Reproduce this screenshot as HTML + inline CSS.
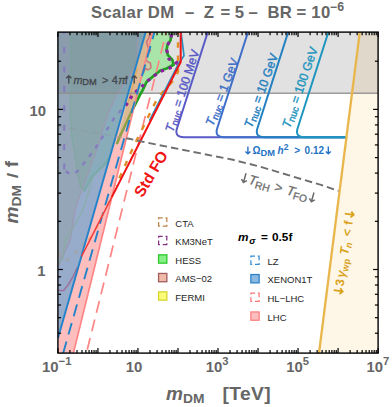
<!DOCTYPE html><html><head><meta charset="utf-8"><title>Scalar DM</title><style>
html,body{margin:0;padding:0;background:#fff;}svg{display:block;}text{font-family:"Liberation Sans",sans-serif;}
</style></head><body>
<svg width="392" height="407" viewBox="0 0 392 407">
<rect width="392" height="407" fill="#fff"/>
<defs><clipPath id="c"><rect x="57.9" y="32.1" width="320.20000000000005" height="321.0"/></clipPath>
<clipPath id="band_lhc"><polygon points="145.7,32 152.5,32 73.4,353.1 58,353.1 58,338"/></clipPath>
<clipPath id="tri"><polygon points="58,32 145.7,32 58,338"/></clipPath>
<clipPath id="ntri"><polygon points="146,32 400,32 400,360 58,360 58,338"/></clipPath>
</defs>
<g clip-path="url(#c)">
<polygon points="359.6,32 379,32 379,353.1 318.8,353.1" fill="#fef6e6"/>
<rect x="57.9" y="32.1" width="320.20000000000005" height="61.199999999999996" fill="#000" fill-opacity="0.118"/>
<polygon points="145.7,32 152.5,32 73.4,353.1 58,353.1 58,338" fill="#ffbebe"/>
<polygon points="145.7,32 172,32 170.5,40.3 167.5,45 166.6,50 167.9,55.1 172.3,59.6 173.6,64.7 166.6,68.5 160,70.8 153.7,75.9 146.5,82 142.7,90.2 139.7,95.4 137.5,99.8 132.3,110.1 126,123.5 119.8,136.7 116.8,144 115.4,147" fill="#a9e5a9"/>
<clipPath id="lpink"><polygon points="100,32 152.5,32 125.6,141 116,160 100,160"/></clipPath>
<polygon points="145.7,32 172,32 170.5,40.3 167.5,45 166.6,50 167.9,55.1 172.3,59.6 173.6,64.7 166.6,68.5 160,70.8 153.7,75.9 146.5,82 142.7,90.2 139.7,95.4 137.5,99.8 132.3,110.1 126,123.5 119.8,136.7 116.8,144 115.4,147" fill="#dcb992" clip-path="url(#lpink)"/>
<polygon points="152.5,32 150,32 149,38 146.5,42 148,47 150.5,50 148,55 146,60 148,62 150.5,63 151,68 148,70 145.5,68.5 143.5,73" fill="#e8b4a0" fill-opacity="0.55"/>
<polyline points="137.3,68 132.2,88.7 127,106" fill="none" stroke="#e0a050" stroke-width="1.2" stroke-opacity="0.8"/>
<g clip-path="url(#tri)">
<rect x="50" y="20" width="120" height="340" fill="#97acca"/>
<polygon points="145.7,32 117.5,138 115,145 112.7,151.5 109.5,157.5 106.5,162.2 103.5,165.8 100.4,168.4 96.5,172.5 92.8,176 89.5,181 86.6,186.7 84.3,191.3 84.3,191.3 80.5,186.7 77,170 74.4,150 72,140 70.5,120 70.5,32" fill="#88acbc"/>
<polygon points="58,32 137.4,32 137.4,61 134,68 130,75.5 124.4,84 117,94 108.3,113 101.4,134.4 96.6,150 90,168 82.8,188.3 79,197.5 75.1,210 70.3,240 65.5,250.6 58,267" fill="#94a6b7"/>
<clipPath id="hin"><polygon points="145.7,32 117.5,138 115,145 112.7,151.5 109.5,157.5 106.5,162.2 103.5,165.8 100.4,168.4 96.5,172.5 92.8,176 89.5,181 86.6,186.7 84.3,191.3 84.3,191.3 80.5,186.7 77,170 74.4,150 72,140 70.5,120 70.5,32"/></clipPath>
<polygon points="58,32 137.4,32 137.4,61 134,68 130,75.5 124.4,84 117,94 108.3,113 101.4,134.4 96.6,150 90,168 82.8,188.3 79,197.5 75.1,210 70.3,240 65.5,250.6 58,267" fill="#8ca6ad" clip-path="url(#hin)"/>
<rect x="57.9" y="32.1" width="100" height="61.199999999999996" fill="#000" fill-opacity="0.055"/>
<polyline points="137.4,32 137.4,61 134,68 130,75.5 124.4,84 117,94 108.3,113 101.4,134.4 96.6,150 90,168 82.8,188.3 79,197.5 75.1,210 70.3,240 65.5,250.6 58,267" fill="none" stroke="#9c97b2" stroke-width="1.4" stroke-opacity="0.8"/>
<polyline points="70.5,32 70.5,120 72,140 74.4,150 77,170 80.5,186.7 84.3,191.3" fill="none" stroke="#78aa9a" stroke-width="1.4" stroke-opacity="0.6"/>
<polyline points="84.3,191.3 86.6,186.7 89.5,181 92.8,176 96.5,172.5 100.4,168.4 103.5,165.8 106.5,162.2 109.5,157.5 112.7,151.5 115,145 117.5,138" fill="none" stroke="#72a898" stroke-width="2.4" stroke-opacity="0.6" stroke-linejoin="round"/>
<polyline points="124.4,98.4 119.8,105.3 112.9,120.6 108.3,134.4 104.5,150 100,160" fill="none" stroke="#8fb4a4" stroke-width="1.1" stroke-opacity="0.5"/>
<polyline points="92.8,178 91.2,183.7 82.8,210 72,230 65.2,240 62.9,259 58,264" fill="none" stroke="#84ae9c" stroke-width="1.3" stroke-opacity="0.7"/>
<polyline points="58,290.5 63.7,290.5 68,285 73.2,276.4 77.5,267" fill="none" stroke="#9a6a9a" stroke-width="1.5" stroke-opacity="0.9"/>
<polyline points="86,242 80.3,247.6 73.4,255.3 65.5,261 61,258 58,251" fill="none" stroke="#a59d9f" stroke-width="1.8" stroke-dasharray="5,6.5" stroke-opacity="0.75"/>
<line x1="64.2" y1="27.7" x2="64.2" y2="169.5" stroke="#8276c2" stroke-width="2.1" stroke-dasharray="6,13.4" stroke-opacity="0.85"/>
<polyline points="65,171 70.5,174 74,173.5 77.4,171.4 83.6,163.8 89.7,155.8 95.8,147.5 101.9,138 108,127.8 114.2,118 120.5,110.9 125.5,105.5" fill="none" stroke="#8276c2" stroke-width="2.4" stroke-dasharray="4.2,6.4" stroke-dashoffset="9.9" stroke-opacity="0.85"/>
</g>
<line x1="57.9" x2="378.1" y1="93.3" y2="93.3" stroke="#8e8e8e" stroke-opacity="0.85" stroke-width="1.5"/>
<polyline points="116.8,144 119.8,136.7 126,123.5 132.3,110.1" fill="none" stroke="#8ea048" stroke-width="2.6"/>
<polyline points="132.3,110.1 137.5,99.8 139.7,95.4 142.7,90.2 146.5,82 153.7,75.9 160,70.8 166.6,68.5 173.6,64.7 172.3,59.6 167.9,55.1 166.6,50 167.5,45 170.5,40.3 172,32" fill="none" stroke="#22a022" stroke-width="2.7" stroke-linejoin="round"/>
<polyline points="150,32 149,38 146.5,42 148,47 150.5,50 148,55 146,60 148,62 150.5,63 151,68 148,70 145.5,68.5 143.5,73" fill="none" stroke="#d07078" stroke-width="1.5" stroke-opacity="0.95" stroke-linejoin="round"/>
<polyline points="125.5,105.5 127.9,102.7 133,93.9 140.5,88 146.2,82 152.7,77 159.3,71.8 166.6,69.2 173.6,66.6 176.5,62.5 169,59 166.7,50 167.5,45 170.5,40 172,32" fill="none" stroke="#8e1fa0" stroke-width="3.2" stroke-dasharray="3.3,5"/>
<line x1="145.7" y1="32" x2="58" y2="338" stroke="#2383c9" stroke-width="1.9"/>
<line x1="152.5" y1="32" x2="73.4" y2="353.1" stroke="#ff8585" stroke-width="1.7"/>
<line x1="154.5" y1="32" x2="63.2" y2="353.1" stroke="#2383c9" stroke-width="1.9" stroke-dasharray="12,7.2" stroke-dashoffset="4.6"/>
<line x1="166.2" y1="32" x2="86.4" y2="353.1" stroke="#ff8585" stroke-width="1.7" stroke-dasharray="12,7.07" stroke-dashoffset="8.8"/>
<polyline points="178,32 178,72 172,82 157.5,98 133.7,146.3 115.9,185.7" fill="none" stroke="#e08c28" stroke-width="2.4" stroke-dasharray="5.5,7.8" stroke-dashoffset="3"/>
<polyline points="112.5,193 98.4,224.4 92.3,234.7 88,240" fill="none" stroke="#f0a878" stroke-width="1.8" stroke-dasharray="5,8" stroke-dashoffset="4"/>
<polyline points="181,32 184,55.7 179.6,62 178.6,63.6 149.5,120.6" fill="none" stroke="#2b8cbe" stroke-width="1.7" stroke-linejoin="round"/>
<polyline points="111.8,197.1 100,220.2 90,239.8 81.5,256.5" fill="none" stroke="#f23c3c" stroke-width="1.5" stroke-linecap="butt"/>
<polyline points="180.7,32 180.7,62 171.4,80.2 130.6,160.2 111.8,197.1" fill="none" stroke="#f01414" stroke-width="2" stroke-linejoin="round"/>
<path d="M207.8,32 L176.8,129 Q174.6,137.2 183.8,137.2 L346,137.2" fill="none" stroke="#5a5ac6" stroke-width="2"/>
<path d="M248.0,32 L217.0,129 Q214.8,137.2 224.0,137.2 L346,137.2" fill="none" stroke="#3f6fc8" stroke-width="2"/>
<path d="M288.20000000000005,32 L257.2,129 Q255.0,137.2 264.2,137.2 L346,137.2" fill="none" stroke="#2480c0" stroke-width="2"/>
<path d="M328.40000000000003,32 L297.4,129 Q295.2,137.2 304.4,137.2 L346,137.2" fill="none" stroke="#1f96c0" stroke-width="2"/>
<line x1="359.8" y1="32" x2="319" y2="353.1" stroke="#e9b64c" stroke-width="2.3"/>
<polyline points="58,126 65,127.5 95,132.8 129.2,138.8 150.6,143.4 181.2,149.5 211.8,155.6 233,159.8 260.6,166.8 291.2,176 321.8,185.2 338.5,190.9" fill="none" stroke="#8a949c" stroke-width="1.5" stroke-dasharray="7.5,4" stroke-opacity="0.4" clip-path="url(#tri)"/>
<clipPath id="rpink"><polygon points="152.5,32 400,32 400,360 73.4,353.1"/></clipPath>
<polyline points="58,126 65,127.5 95,132.8 129.2,138.8 150.6,143.4 181.2,149.5 211.8,155.6 233,159.8 260.6,166.8 291.2,176 321.8,185.2 338.5,190.9" fill="none" stroke="#6e6e6e" stroke-width="1.9" stroke-dasharray="7.5,4" clip-path="url(#rpink)"/>
<polyline points="58,126 65,127.5 95,132.8 129.2,138.8 150.6,143.4 181.2,149.5 211.8,155.6 233,159.8 260.6,166.8 291.2,176 321.8,185.2 338.5,190.9" fill="none" stroke="#c09090" stroke-width="1.6" stroke-dasharray="7.5,4" stroke-opacity="0.6" clip-path="url(#band_lhc)"/>
</g>
<line x1="57.90" x2="57.90" y1="353.1" y2="348.1" stroke="#000" stroke-width="1.2"/>
<line x1="57.90" x2="57.90" y1="32.1" y2="37.1" stroke="#000" stroke-width="1.2"/>
<line x1="69.95" x2="69.95" y1="353.1" y2="349.90000000000003" stroke="#000" stroke-width="1.2"/>
<line x1="69.95" x2="69.95" y1="32.1" y2="35.300000000000004" stroke="#000" stroke-width="1.2"/>
<line x1="77.00" x2="77.00" y1="353.1" y2="349.90000000000003" stroke="#000" stroke-width="1.2"/>
<line x1="77.00" x2="77.00" y1="32.1" y2="35.300000000000004" stroke="#000" stroke-width="1.2"/>
<line x1="82.00" x2="82.00" y1="353.1" y2="349.90000000000003" stroke="#000" stroke-width="1.2"/>
<line x1="82.00" x2="82.00" y1="32.1" y2="35.300000000000004" stroke="#000" stroke-width="1.2"/>
<line x1="85.88" x2="85.88" y1="353.1" y2="349.90000000000003" stroke="#000" stroke-width="1.2"/>
<line x1="85.88" x2="85.88" y1="32.1" y2="35.300000000000004" stroke="#000" stroke-width="1.2"/>
<line x1="89.05" x2="89.05" y1="353.1" y2="349.90000000000003" stroke="#000" stroke-width="1.2"/>
<line x1="89.05" x2="89.05" y1="32.1" y2="35.300000000000004" stroke="#000" stroke-width="1.2"/>
<line x1="91.73" x2="91.73" y1="353.1" y2="349.90000000000003" stroke="#000" stroke-width="1.2"/>
<line x1="91.73" x2="91.73" y1="32.1" y2="35.300000000000004" stroke="#000" stroke-width="1.2"/>
<line x1="94.05" x2="94.05" y1="353.1" y2="349.90000000000003" stroke="#000" stroke-width="1.2"/>
<line x1="94.05" x2="94.05" y1="32.1" y2="35.300000000000004" stroke="#000" stroke-width="1.2"/>
<line x1="96.09" x2="96.09" y1="353.1" y2="349.90000000000003" stroke="#000" stroke-width="1.2"/>
<line x1="96.09" x2="96.09" y1="32.1" y2="35.300000000000004" stroke="#000" stroke-width="1.2"/>
<line x1="97.93" x2="97.93" y1="353.1" y2="348.1" stroke="#000" stroke-width="1.2"/>
<line x1="97.93" x2="97.93" y1="32.1" y2="37.1" stroke="#000" stroke-width="1.2"/>
<line x1="109.97" x2="109.97" y1="353.1" y2="349.90000000000003" stroke="#000" stroke-width="1.2"/>
<line x1="109.97" x2="109.97" y1="32.1" y2="35.300000000000004" stroke="#000" stroke-width="1.2"/>
<line x1="117.02" x2="117.02" y1="353.1" y2="349.90000000000003" stroke="#000" stroke-width="1.2"/>
<line x1="117.02" x2="117.02" y1="32.1" y2="35.300000000000004" stroke="#000" stroke-width="1.2"/>
<line x1="122.02" x2="122.02" y1="353.1" y2="349.90000000000003" stroke="#000" stroke-width="1.2"/>
<line x1="122.02" x2="122.02" y1="32.1" y2="35.300000000000004" stroke="#000" stroke-width="1.2"/>
<line x1="125.90" x2="125.90" y1="353.1" y2="349.90000000000003" stroke="#000" stroke-width="1.2"/>
<line x1="125.90" x2="125.90" y1="32.1" y2="35.300000000000004" stroke="#000" stroke-width="1.2"/>
<line x1="129.07" x2="129.07" y1="353.1" y2="349.90000000000003" stroke="#000" stroke-width="1.2"/>
<line x1="129.07" x2="129.07" y1="32.1" y2="35.300000000000004" stroke="#000" stroke-width="1.2"/>
<line x1="131.75" x2="131.75" y1="353.1" y2="349.90000000000003" stroke="#000" stroke-width="1.2"/>
<line x1="131.75" x2="131.75" y1="32.1" y2="35.300000000000004" stroke="#000" stroke-width="1.2"/>
<line x1="134.07" x2="134.07" y1="353.1" y2="349.90000000000003" stroke="#000" stroke-width="1.2"/>
<line x1="134.07" x2="134.07" y1="32.1" y2="35.300000000000004" stroke="#000" stroke-width="1.2"/>
<line x1="136.12" x2="136.12" y1="353.1" y2="349.90000000000003" stroke="#000" stroke-width="1.2"/>
<line x1="136.12" x2="136.12" y1="32.1" y2="35.300000000000004" stroke="#000" stroke-width="1.2"/>
<line x1="137.95" x2="137.95" y1="353.1" y2="348.1" stroke="#000" stroke-width="1.2"/>
<line x1="137.95" x2="137.95" y1="32.1" y2="37.1" stroke="#000" stroke-width="1.2"/>
<line x1="150.00" x2="150.00" y1="353.1" y2="349.90000000000003" stroke="#000" stroke-width="1.2"/>
<line x1="150.00" x2="150.00" y1="32.1" y2="35.300000000000004" stroke="#000" stroke-width="1.2"/>
<line x1="157.05" x2="157.05" y1="353.1" y2="349.90000000000003" stroke="#000" stroke-width="1.2"/>
<line x1="157.05" x2="157.05" y1="32.1" y2="35.300000000000004" stroke="#000" stroke-width="1.2"/>
<line x1="162.05" x2="162.05" y1="353.1" y2="349.90000000000003" stroke="#000" stroke-width="1.2"/>
<line x1="162.05" x2="162.05" y1="32.1" y2="35.300000000000004" stroke="#000" stroke-width="1.2"/>
<line x1="165.93" x2="165.93" y1="353.1" y2="349.90000000000003" stroke="#000" stroke-width="1.2"/>
<line x1="165.93" x2="165.93" y1="32.1" y2="35.300000000000004" stroke="#000" stroke-width="1.2"/>
<line x1="169.10" x2="169.10" y1="353.1" y2="349.90000000000003" stroke="#000" stroke-width="1.2"/>
<line x1="169.10" x2="169.10" y1="32.1" y2="35.300000000000004" stroke="#000" stroke-width="1.2"/>
<line x1="171.78" x2="171.78" y1="353.1" y2="349.90000000000003" stroke="#000" stroke-width="1.2"/>
<line x1="171.78" x2="171.78" y1="32.1" y2="35.300000000000004" stroke="#000" stroke-width="1.2"/>
<line x1="174.10" x2="174.10" y1="353.1" y2="349.90000000000003" stroke="#000" stroke-width="1.2"/>
<line x1="174.10" x2="174.10" y1="32.1" y2="35.300000000000004" stroke="#000" stroke-width="1.2"/>
<line x1="176.14" x2="176.14" y1="353.1" y2="349.90000000000003" stroke="#000" stroke-width="1.2"/>
<line x1="176.14" x2="176.14" y1="32.1" y2="35.300000000000004" stroke="#000" stroke-width="1.2"/>
<line x1="177.98" x2="177.98" y1="353.1" y2="348.1" stroke="#000" stroke-width="1.2"/>
<line x1="177.98" x2="177.98" y1="32.1" y2="37.1" stroke="#000" stroke-width="1.2"/>
<line x1="190.02" x2="190.02" y1="353.1" y2="349.90000000000003" stroke="#000" stroke-width="1.2"/>
<line x1="190.02" x2="190.02" y1="32.1" y2="35.300000000000004" stroke="#000" stroke-width="1.2"/>
<line x1="197.07" x2="197.07" y1="353.1" y2="349.90000000000003" stroke="#000" stroke-width="1.2"/>
<line x1="197.07" x2="197.07" y1="32.1" y2="35.300000000000004" stroke="#000" stroke-width="1.2"/>
<line x1="202.07" x2="202.07" y1="353.1" y2="349.90000000000003" stroke="#000" stroke-width="1.2"/>
<line x1="202.07" x2="202.07" y1="32.1" y2="35.300000000000004" stroke="#000" stroke-width="1.2"/>
<line x1="205.95" x2="205.95" y1="353.1" y2="349.90000000000003" stroke="#000" stroke-width="1.2"/>
<line x1="205.95" x2="205.95" y1="32.1" y2="35.300000000000004" stroke="#000" stroke-width="1.2"/>
<line x1="209.12" x2="209.12" y1="353.1" y2="349.90000000000003" stroke="#000" stroke-width="1.2"/>
<line x1="209.12" x2="209.12" y1="32.1" y2="35.300000000000004" stroke="#000" stroke-width="1.2"/>
<line x1="211.80" x2="211.80" y1="353.1" y2="349.90000000000003" stroke="#000" stroke-width="1.2"/>
<line x1="211.80" x2="211.80" y1="32.1" y2="35.300000000000004" stroke="#000" stroke-width="1.2"/>
<line x1="214.12" x2="214.12" y1="353.1" y2="349.90000000000003" stroke="#000" stroke-width="1.2"/>
<line x1="214.12" x2="214.12" y1="32.1" y2="35.300000000000004" stroke="#000" stroke-width="1.2"/>
<line x1="216.17" x2="216.17" y1="353.1" y2="349.90000000000003" stroke="#000" stroke-width="1.2"/>
<line x1="216.17" x2="216.17" y1="32.1" y2="35.300000000000004" stroke="#000" stroke-width="1.2"/>
<line x1="218.00" x2="218.00" y1="353.1" y2="348.1" stroke="#000" stroke-width="1.2"/>
<line x1="218.00" x2="218.00" y1="32.1" y2="37.1" stroke="#000" stroke-width="1.2"/>
<line x1="230.05" x2="230.05" y1="353.1" y2="349.90000000000003" stroke="#000" stroke-width="1.2"/>
<line x1="230.05" x2="230.05" y1="32.1" y2="35.300000000000004" stroke="#000" stroke-width="1.2"/>
<line x1="237.10" x2="237.10" y1="353.1" y2="349.90000000000003" stroke="#000" stroke-width="1.2"/>
<line x1="237.10" x2="237.10" y1="32.1" y2="35.300000000000004" stroke="#000" stroke-width="1.2"/>
<line x1="242.10" x2="242.10" y1="353.1" y2="349.90000000000003" stroke="#000" stroke-width="1.2"/>
<line x1="242.10" x2="242.10" y1="32.1" y2="35.300000000000004" stroke="#000" stroke-width="1.2"/>
<line x1="245.98" x2="245.98" y1="353.1" y2="349.90000000000003" stroke="#000" stroke-width="1.2"/>
<line x1="245.98" x2="245.98" y1="32.1" y2="35.300000000000004" stroke="#000" stroke-width="1.2"/>
<line x1="249.15" x2="249.15" y1="353.1" y2="349.90000000000003" stroke="#000" stroke-width="1.2"/>
<line x1="249.15" x2="249.15" y1="32.1" y2="35.300000000000004" stroke="#000" stroke-width="1.2"/>
<line x1="251.83" x2="251.83" y1="353.1" y2="349.90000000000003" stroke="#000" stroke-width="1.2"/>
<line x1="251.83" x2="251.83" y1="32.1" y2="35.300000000000004" stroke="#000" stroke-width="1.2"/>
<line x1="254.15" x2="254.15" y1="353.1" y2="349.90000000000003" stroke="#000" stroke-width="1.2"/>
<line x1="254.15" x2="254.15" y1="32.1" y2="35.300000000000004" stroke="#000" stroke-width="1.2"/>
<line x1="256.19" x2="256.19" y1="353.1" y2="349.90000000000003" stroke="#000" stroke-width="1.2"/>
<line x1="256.19" x2="256.19" y1="32.1" y2="35.300000000000004" stroke="#000" stroke-width="1.2"/>
<line x1="258.03" x2="258.03" y1="353.1" y2="348.1" stroke="#000" stroke-width="1.2"/>
<line x1="258.03" x2="258.03" y1="32.1" y2="37.1" stroke="#000" stroke-width="1.2"/>
<line x1="270.07" x2="270.07" y1="353.1" y2="349.90000000000003" stroke="#000" stroke-width="1.2"/>
<line x1="270.07" x2="270.07" y1="32.1" y2="35.300000000000004" stroke="#000" stroke-width="1.2"/>
<line x1="277.12" x2="277.12" y1="353.1" y2="349.90000000000003" stroke="#000" stroke-width="1.2"/>
<line x1="277.12" x2="277.12" y1="32.1" y2="35.300000000000004" stroke="#000" stroke-width="1.2"/>
<line x1="282.12" x2="282.12" y1="353.1" y2="349.90000000000003" stroke="#000" stroke-width="1.2"/>
<line x1="282.12" x2="282.12" y1="32.1" y2="35.300000000000004" stroke="#000" stroke-width="1.2"/>
<line x1="286.00" x2="286.00" y1="353.1" y2="349.90000000000003" stroke="#000" stroke-width="1.2"/>
<line x1="286.00" x2="286.00" y1="32.1" y2="35.300000000000004" stroke="#000" stroke-width="1.2"/>
<line x1="289.17" x2="289.17" y1="353.1" y2="349.90000000000003" stroke="#000" stroke-width="1.2"/>
<line x1="289.17" x2="289.17" y1="32.1" y2="35.300000000000004" stroke="#000" stroke-width="1.2"/>
<line x1="291.85" x2="291.85" y1="353.1" y2="349.90000000000003" stroke="#000" stroke-width="1.2"/>
<line x1="291.85" x2="291.85" y1="32.1" y2="35.300000000000004" stroke="#000" stroke-width="1.2"/>
<line x1="294.17" x2="294.17" y1="353.1" y2="349.90000000000003" stroke="#000" stroke-width="1.2"/>
<line x1="294.17" x2="294.17" y1="32.1" y2="35.300000000000004" stroke="#000" stroke-width="1.2"/>
<line x1="296.22" x2="296.22" y1="353.1" y2="349.90000000000003" stroke="#000" stroke-width="1.2"/>
<line x1="296.22" x2="296.22" y1="32.1" y2="35.300000000000004" stroke="#000" stroke-width="1.2"/>
<line x1="298.05" x2="298.05" y1="353.1" y2="348.1" stroke="#000" stroke-width="1.2"/>
<line x1="298.05" x2="298.05" y1="32.1" y2="37.1" stroke="#000" stroke-width="1.2"/>
<line x1="310.10" x2="310.10" y1="353.1" y2="349.90000000000003" stroke="#000" stroke-width="1.2"/>
<line x1="310.10" x2="310.10" y1="32.1" y2="35.300000000000004" stroke="#000" stroke-width="1.2"/>
<line x1="317.15" x2="317.15" y1="353.1" y2="349.90000000000003" stroke="#000" stroke-width="1.2"/>
<line x1="317.15" x2="317.15" y1="32.1" y2="35.300000000000004" stroke="#000" stroke-width="1.2"/>
<line x1="322.15" x2="322.15" y1="353.1" y2="349.90000000000003" stroke="#000" stroke-width="1.2"/>
<line x1="322.15" x2="322.15" y1="32.1" y2="35.300000000000004" stroke="#000" stroke-width="1.2"/>
<line x1="326.03" x2="326.03" y1="353.1" y2="349.90000000000003" stroke="#000" stroke-width="1.2"/>
<line x1="326.03" x2="326.03" y1="32.1" y2="35.300000000000004" stroke="#000" stroke-width="1.2"/>
<line x1="329.20" x2="329.20" y1="353.1" y2="349.90000000000003" stroke="#000" stroke-width="1.2"/>
<line x1="329.20" x2="329.20" y1="32.1" y2="35.300000000000004" stroke="#000" stroke-width="1.2"/>
<line x1="331.88" x2="331.88" y1="353.1" y2="349.90000000000003" stroke="#000" stroke-width="1.2"/>
<line x1="331.88" x2="331.88" y1="32.1" y2="35.300000000000004" stroke="#000" stroke-width="1.2"/>
<line x1="334.20" x2="334.20" y1="353.1" y2="349.90000000000003" stroke="#000" stroke-width="1.2"/>
<line x1="334.20" x2="334.20" y1="32.1" y2="35.300000000000004" stroke="#000" stroke-width="1.2"/>
<line x1="336.24" x2="336.24" y1="353.1" y2="349.90000000000003" stroke="#000" stroke-width="1.2"/>
<line x1="336.24" x2="336.24" y1="32.1" y2="35.300000000000004" stroke="#000" stroke-width="1.2"/>
<line x1="338.08" x2="338.08" y1="353.1" y2="348.1" stroke="#000" stroke-width="1.2"/>
<line x1="338.08" x2="338.08" y1="32.1" y2="37.1" stroke="#000" stroke-width="1.2"/>
<line x1="350.12" x2="350.12" y1="353.1" y2="349.90000000000003" stroke="#000" stroke-width="1.2"/>
<line x1="350.12" x2="350.12" y1="32.1" y2="35.300000000000004" stroke="#000" stroke-width="1.2"/>
<line x1="357.17" x2="357.17" y1="353.1" y2="349.90000000000003" stroke="#000" stroke-width="1.2"/>
<line x1="357.17" x2="357.17" y1="32.1" y2="35.300000000000004" stroke="#000" stroke-width="1.2"/>
<line x1="362.17" x2="362.17" y1="353.1" y2="349.90000000000003" stroke="#000" stroke-width="1.2"/>
<line x1="362.17" x2="362.17" y1="32.1" y2="35.300000000000004" stroke="#000" stroke-width="1.2"/>
<line x1="366.05" x2="366.05" y1="353.1" y2="349.90000000000003" stroke="#000" stroke-width="1.2"/>
<line x1="366.05" x2="366.05" y1="32.1" y2="35.300000000000004" stroke="#000" stroke-width="1.2"/>
<line x1="369.22" x2="369.22" y1="353.1" y2="349.90000000000003" stroke="#000" stroke-width="1.2"/>
<line x1="369.22" x2="369.22" y1="32.1" y2="35.300000000000004" stroke="#000" stroke-width="1.2"/>
<line x1="371.90" x2="371.90" y1="353.1" y2="349.90000000000003" stroke="#000" stroke-width="1.2"/>
<line x1="371.90" x2="371.90" y1="32.1" y2="35.300000000000004" stroke="#000" stroke-width="1.2"/>
<line x1="374.22" x2="374.22" y1="353.1" y2="349.90000000000003" stroke="#000" stroke-width="1.2"/>
<line x1="374.22" x2="374.22" y1="32.1" y2="35.300000000000004" stroke="#000" stroke-width="1.2"/>
<line x1="376.27" x2="376.27" y1="353.1" y2="349.90000000000003" stroke="#000" stroke-width="1.2"/>
<line x1="376.27" x2="376.27" y1="32.1" y2="35.300000000000004" stroke="#000" stroke-width="1.2"/>
<line x1="378.10" x2="378.10" y1="353.1" y2="348.1" stroke="#000" stroke-width="1.2"/>
<line x1="378.10" x2="378.10" y1="32.1" y2="37.1" stroke="#000" stroke-width="1.2"/>
<line x1="57.9" x2="62.9" y1="269.50" y2="269.50" stroke="#000" stroke-width="1.2"/>
<line x1="378.1" x2="373.1" y1="269.50" y2="269.50" stroke="#000" stroke-width="1.2"/>
<line x1="57.9" x2="62.9" y1="109.40" y2="109.40" stroke="#000" stroke-width="1.2"/>
<line x1="378.1" x2="373.1" y1="109.40" y2="109.40" stroke="#000" stroke-width="1.2"/>
<line x1="57.9" x2="61.1" y1="333.21" y2="333.21" stroke="#000" stroke-width="1.2"/>
<line x1="378.1" x2="374.90000000000003" y1="333.21" y2="333.21" stroke="#000" stroke-width="1.2"/>
<line x1="57.9" x2="61.1" y1="317.69" y2="317.69" stroke="#000" stroke-width="1.2"/>
<line x1="378.1" x2="374.90000000000003" y1="317.69" y2="317.69" stroke="#000" stroke-width="1.2"/>
<line x1="57.9" x2="61.1" y1="305.02" y2="305.02" stroke="#000" stroke-width="1.2"/>
<line x1="378.1" x2="374.90000000000003" y1="305.02" y2="305.02" stroke="#000" stroke-width="1.2"/>
<line x1="57.9" x2="61.1" y1="294.30" y2="294.30" stroke="#000" stroke-width="1.2"/>
<line x1="378.1" x2="374.90000000000003" y1="294.30" y2="294.30" stroke="#000" stroke-width="1.2"/>
<line x1="57.9" x2="61.1" y1="285.02" y2="285.02" stroke="#000" stroke-width="1.2"/>
<line x1="378.1" x2="374.90000000000003" y1="285.02" y2="285.02" stroke="#000" stroke-width="1.2"/>
<line x1="57.9" x2="61.1" y1="276.83" y2="276.83" stroke="#000" stroke-width="1.2"/>
<line x1="378.1" x2="374.90000000000003" y1="276.83" y2="276.83" stroke="#000" stroke-width="1.2"/>
<line x1="57.9" x2="61.1" y1="221.31" y2="221.31" stroke="#000" stroke-width="1.2"/>
<line x1="378.1" x2="374.90000000000003" y1="221.31" y2="221.31" stroke="#000" stroke-width="1.2"/>
<line x1="57.9" x2="61.1" y1="193.11" y2="193.11" stroke="#000" stroke-width="1.2"/>
<line x1="378.1" x2="374.90000000000003" y1="193.11" y2="193.11" stroke="#000" stroke-width="1.2"/>
<line x1="57.9" x2="61.1" y1="173.11" y2="173.11" stroke="#000" stroke-width="1.2"/>
<line x1="378.1" x2="374.90000000000003" y1="173.11" y2="173.11" stroke="#000" stroke-width="1.2"/>
<line x1="57.9" x2="61.1" y1="157.59" y2="157.59" stroke="#000" stroke-width="1.2"/>
<line x1="378.1" x2="374.90000000000003" y1="157.59" y2="157.59" stroke="#000" stroke-width="1.2"/>
<line x1="57.9" x2="61.1" y1="144.92" y2="144.92" stroke="#000" stroke-width="1.2"/>
<line x1="378.1" x2="374.90000000000003" y1="144.92" y2="144.92" stroke="#000" stroke-width="1.2"/>
<line x1="57.9" x2="61.1" y1="134.20" y2="134.20" stroke="#000" stroke-width="1.2"/>
<line x1="378.1" x2="374.90000000000003" y1="134.20" y2="134.20" stroke="#000" stroke-width="1.2"/>
<line x1="57.9" x2="61.1" y1="124.92" y2="124.92" stroke="#000" stroke-width="1.2"/>
<line x1="378.1" x2="374.90000000000003" y1="124.92" y2="124.92" stroke="#000" stroke-width="1.2"/>
<line x1="57.9" x2="61.1" y1="116.73" y2="116.73" stroke="#000" stroke-width="1.2"/>
<line x1="378.1" x2="374.90000000000003" y1="116.73" y2="116.73" stroke="#000" stroke-width="1.2"/>
<line x1="57.9" x2="61.1" y1="61.21" y2="61.21" stroke="#000" stroke-width="1.2"/>
<line x1="378.1" x2="374.90000000000003" y1="61.21" y2="61.21" stroke="#000" stroke-width="1.2"/>
<rect x="57.9" y="32.1" width="320.20000000000005" height="321.0" fill="none" stroke="#000" stroke-width="1.4"/>
<g font-weight="bold" fill="#666">
<text transform="translate(91,18.4) scale(1.03,1)" font-size="16.2" letter-spacing="0.3" >Scalar DM</text>
<text transform="translate(185,18.4) scale(1.03,1)" font-size="16.2" letter-spacing="0.3" >–</text>
<text transform="translate(203.8,18.4) scale(1.03,1)" font-size="16.2" letter-spacing="0.3" >Z</text>
<text transform="translate(220.6,18.4) scale(1.03,1)" font-size="16.2" letter-spacing="0.3" >=</text>
<text transform="translate(234.7,18.4) scale(1.03,1)" font-size="16.2" letter-spacing="0.3" >5</text>
<text transform="translate(248.5,18.4) scale(1.03,1)" font-size="16.2" letter-spacing="0.3" >–</text>
<text transform="translate(267.4,18.4) scale(1.03,1)" font-size="16.2" letter-spacing="0.3" >BR</text>
<text transform="translate(296.6,18.4) scale(1.03,1)" font-size="16.2" letter-spacing="0.3" >=</text>
<text transform="translate(311.3,18.4) scale(1.03,1)" font-size="16.2" letter-spacing="0.3" >10</text>
<text transform="translate(329.8,11.2) scale(1.03,1)" font-size="12" letter-spacing="0.2" >−6</text>
</g>
<g font-weight="bold" font-size="14.9" fill="#666">
<text x="46" y="115.9" text-anchor="end">10</text><text x="45.5" y="275.8" text-anchor="end">1</text>
<text x="42" y="371.9">10</text><text x="58.6" y="365.4" font-size="11.2">−1</text>
<text x="125.7" y="371.9">10</text>
<text x="205.8" y="371.9">10</text><text x="222.3" y="365.4" font-size="11.2">3</text>
<text x="286.3" y="371.9">10</text><text x="302.8" y="365.4" font-size="11.2">5</text>
<text x="366.5" y="371.9">10</text><text x="383" y="365.4" font-size="11.2">7</text>
</g>
<g font-weight="bold" fill="#666">
<text transform="translate(166,400) scale(1.03,1)" font-size="18.5" letter-spacing="0" font-style="italic">m</text>
<text transform="translate(183,403) scale(1.04,1)" font-size="13.3" letter-spacing="0" >DM</text>
<text transform="translate(222.6,400) scale(1.04,1)" font-size="18.5" letter-spacing="0.35" >[TeV]</text>
<g transform="translate(17.9,223.5) rotate(-90)">
<text transform="translate(0,0) scale(1.03,1)" font-size="18.5" letter-spacing="0" font-style="italic">m</text>
<text transform="translate(17,3) scale(1.04,1)" font-size="13.3" letter-spacing="0" >DM</text>
<text transform="translate(45.2,-0.3) scale(1.35,1)" font-size="14.5" letter-spacing="0" >/</text>
<text transform="translate(56.2,0) scale(1.03,1)" font-size="18.5" letter-spacing="0" >f</text>
</g>
</g>
<path d="M68.8,83.4 L68.8,76.0 M66.2,78.3 L68.8,75.80000000000001 L71.39999999999999,78.3" fill="none" stroke="#41464c" stroke-width="1.4" stroke-opacity="0.95" stroke-linejoin="miter"/>
<path d="M134.2,83.4 L134.2,76.0 M131.6,78.3 L134.2,75.80000000000001 L136.79999999999998,78.3" fill="none" stroke="#41464c" stroke-width="1.4" stroke-opacity="0.95" stroke-linejoin="miter"/>
<g font-size="10.9" fill="#41464c" fill-opacity="0.95" stroke="#41464c" stroke-width="0.4" stroke-opacity="0.9"><text x="73.6" y="83.5" font-style="italic">m</text><text x="82.3" y="85.4" font-size="9.3">DM</text><text x="102.1" y="83.5">&gt;</text><text x="111.7" y="83.5">4</text><text x="118.2" y="83.5" font-style="italic">π</text><text x="124.8" y="83.5">f</text></g>
<g transform="translate(151.2,174) rotate(-59)"><text y="5" font-size="15.5" font-weight="bold" fill="#f01414" text-anchor="middle">Std FO</text></g>
<g transform="translate(186.2,92) rotate(-72)"><text font-size="12.2" fill="#5a5ac6" stroke="#5a5ac6" stroke-width="0.4" text-anchor="middle"><tspan font-style="italic">T</tspan><tspan font-size="9.5" dy="2">nuc</tspan><tspan dy="-2"> = 100 MeV</tspan></text></g>
<g transform="translate(226,93.6) rotate(-68.5)"><text font-size="12.2" fill="#3f6fc8" stroke="#3f6fc8" stroke-width="0.4" text-anchor="middle"><tspan font-style="italic">T</tspan><tspan font-size="9.5" dy="2">nuc</tspan><tspan dy="-2"> = 1 GeV</tspan></text></g>
<g transform="translate(265,91.9) rotate(-70)"><text font-size="12.2" fill="#2480c0" stroke="#2480c0" stroke-width="0.4" text-anchor="middle"><tspan font-style="italic">T</tspan><tspan font-size="9.5" dy="2">nuc</tspan><tspan dy="-2"> = 10 GeV</tspan></text></g>
<g transform="translate(303.85,88.85) rotate(-70.5)"><text font-size="12.2" fill="#1f96c0" stroke="#1f96c0" stroke-width="0.4" text-anchor="middle"><tspan font-style="italic">T</tspan><tspan font-size="9.5" dy="2">nuc</tspan><tspan dy="-2"> = 100 GeV</tspan></text></g>
<path d="M247.9,146.6 L247.9,153.6 M245.4,151.39999999999998 L247.9,153.79999999999998 L250.4,151.39999999999998" fill="none" stroke="#2673c4" stroke-width="1.4" stroke-opacity="1" stroke-linejoin="miter"/>
<path d="M328.3,146.6 L328.3,153.6 M325.8,151.39999999999998 L328.3,153.79999999999998 L330.8,151.39999999999998" fill="none" stroke="#2673c4" stroke-width="1.4" stroke-opacity="1" stroke-linejoin="miter"/>
<g font-size="10" font-weight="bold" fill="#2673c4"><text x="252.6" y="153.9">Ω</text><text x="260.6" y="156" font-size="9.3">DM</text><text x="277.6" y="153.9" font-style="italic">h</text><text x="283.8" y="149.6" font-size="8.6">2</text><text x="294.2" y="153.9">&gt;</text><text x="304.6" y="153.9">0.12</text></g>
<g transform="translate(241,181.5) rotate(15.8)">
<path d="M2.6,-9.3 L2.6,0.0 M-0.19999999999999973,-2.4999999999999996 L2.6,0.19999999999999996 L5.4,-2.4999999999999996" fill="none" stroke="#6c6c6c" stroke-width="1.5" stroke-opacity="1" stroke-linejoin="miter"/>
<path d="M73.2,-9.3 L73.2,0.0 M70.4,-2.4999999999999996 L73.2,0.19999999999999996 L76.0,-2.4999999999999996" fill="none" stroke="#6c6c6c" stroke-width="1.5" stroke-opacity="1" stroke-linejoin="miter"/>
<g font-size="13.3" fill="#6c6c6c" stroke="#6c6c6c" stroke-width="0.3"><text x="7" y="0" font-style="italic">T</text><text x="14.6" y="2.6" font-size="10.2">RH</text><text x="34" y="0">&gt;</text><text x="46.5" y="0" font-style="italic">T</text><text x="54.1" y="2.6" font-size="10.2">FO</text></g>
</g>
<g transform="translate(338.5,290.9) rotate(-81.8)">
<path d="M0,-4.8 L0,3.9999999999999996 M-2.9,1.3999999999999997 L0,4.199999999999999 L2.9,1.3999999999999997" fill="none" stroke="#d8a21c" stroke-width="1.8" stroke-opacity="1" stroke-linejoin="miter"/>
<path d="M77.4,-4.8 L77.4,3.9999999999999996 M74.5,1.3999999999999997 L77.4,4.199999999999999 L80.30000000000001,1.3999999999999997" fill="none" stroke="#d8a21c" stroke-width="1.8" stroke-opacity="1" stroke-linejoin="miter"/>
<g font-size="12.2" font-weight="bold" fill="#d8a21c"><text x="5.2" y="4.3">3</text><text x="13.6" y="4.3" font-style="italic">γ</text><text x="20.2" y="6.8" font-size="9.2">wp</text><text x="36.6" y="4.3" font-style="italic">T</text><text x="43.8" y="6.8" font-size="9.2" font-style="italic">n</text><text x="55.4" y="4.3">&lt;</text><text x="66.6" y="4.3">f</text></g>
</g>
<g font-size="9.5" fill="#1e1e1e">
<rect x="158.6" y="217.9" width="8.2" height="8.2" fill="none" stroke="#be8246" stroke-width="1.25" stroke-dasharray="5.4,2.8" stroke-dashoffset="1.3"/>
<rect x="158.6" y="236.4" width="8.2" height="8.2" fill="none" stroke="#843284" stroke-width="1.25" stroke-dasharray="5.4,2.8" stroke-dashoffset="1.3"/>
<rect x="158.55" y="254.85" width="8.3" height="8.3" fill="#86f086" stroke="#2cc82c" stroke-width="1.3"/>
<rect x="158.55" y="273.45000000000005" width="8.3" height="8.3" fill="#f0baa8" stroke="#a05e5e" stroke-width="1.3"/>
<rect x="158.55" y="291.85" width="8.3" height="8.3" fill="#fcfc78" stroke="#d6d632" stroke-width="1.3"/>
<text x="175.3" y="226.5">CTA</text>
<text x="175.3" y="245.0">KM3NeT</text>
<text x="175.3" y="263.5">HESS</text>
<text x="175.3" y="282.1">AMS−02</text>
<text x="175.3" y="300.5">FERMI</text>
<rect x="250.89999999999998" y="256.2" width="8.2" height="8.2" fill="none" stroke="#348cd2" stroke-width="1.25" stroke-dasharray="5.4,2.8" stroke-dashoffset="1.3"/>
<rect x="250.85" y="274.55" width="8.3" height="8.3" fill="#8cb9e1" stroke="#2d82c8" stroke-width="1.3"/>
<rect x="250.89999999999998" y="293.09999999999997" width="8.2" height="8.2" fill="none" stroke="#fa7878" stroke-width="1.25" stroke-dasharray="5.4,2.8" stroke-dashoffset="1.3"/>
<rect x="250.85" y="311.95000000000005" width="8.3" height="8.3" fill="#fabebe" stroke="#fa8282" stroke-width="1.3"/>
<text x="267.5" y="264.8">LZ</text>
<text x="267.5" y="283.2">XENON1T</text>
<text x="267.5" y="301.7">HL−LHC</text>
<text x="267.5" y="320.6">LHC</text>
</g>
<g font-weight="bold" fill="#000" font-size="11.8"><text x="238" y="241.1" font-style="italic">m</text><text x="249.3" y="243.6" font-size="9.3" font-style="italic">σ</text><text x="261" y="241.1">=</text><text x="272" y="241.1">0.5f</text></g>
</svg></body></html>
